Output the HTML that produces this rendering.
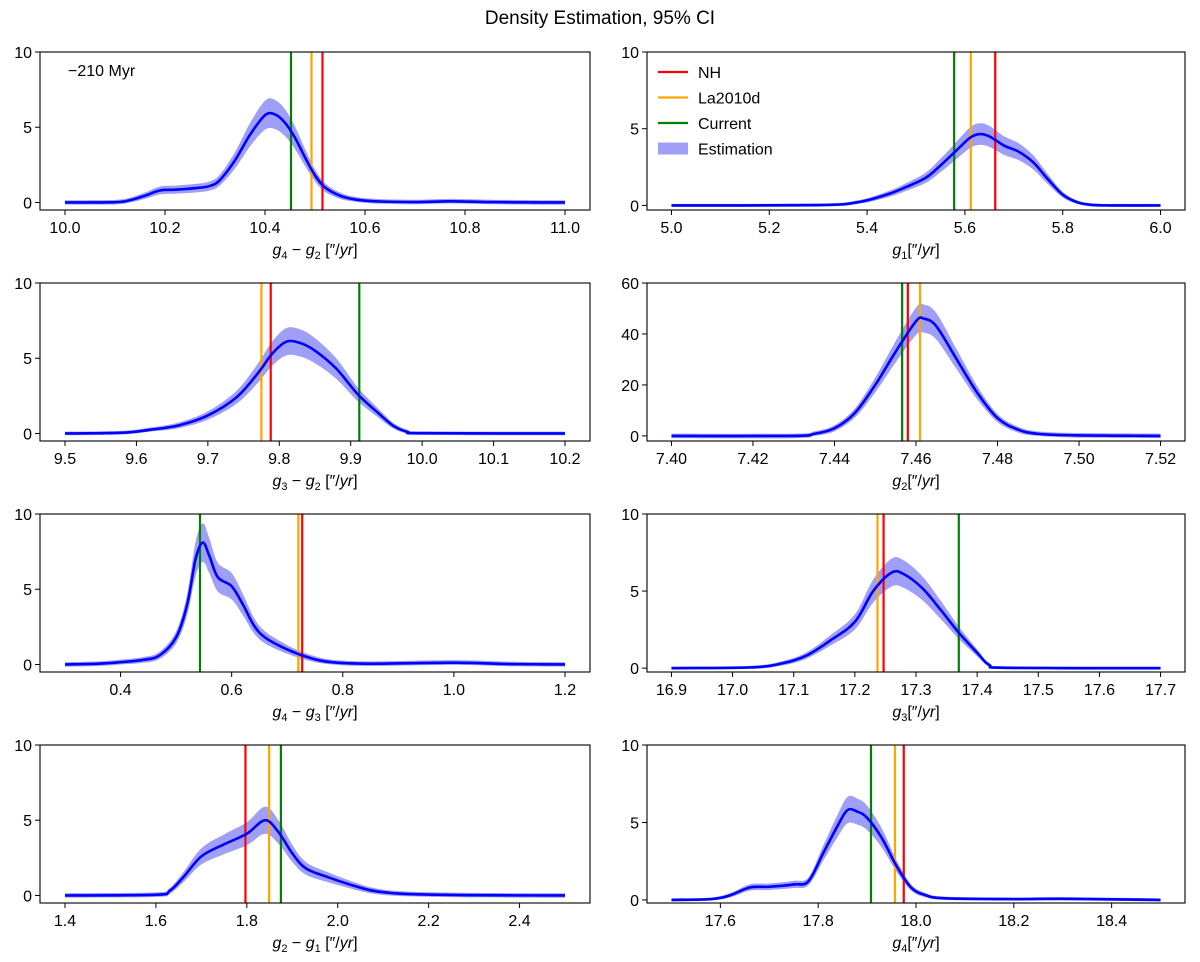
<!DOCTYPE html>
<html><head><meta charset="utf-8"><style>
body{margin:0;background:#fff}
svg{font-family:"Liberation Sans","DejaVu Sans",sans-serif}
</style></head><body>
<svg id="fig" width="1200" height="957" xmlns="http://www.w3.org/2000/svg">
<rect width="1200" height="957" fill="#fff"/>
<text x="600" y="24" text-anchor="middle" font-size="19">Density Estimation, 95% CI</text>
</svg>
<script>
// ---- data ----
const p1x=[10.0,10.1,10.13,10.16,10.19,10.22,10.26,10.29,10.31,10.34,10.37,10.40,10.42,10.44,10.46,10.48,10.50,10.52,10.55,10.58,10.62,10.7,10.77,10.85,10.95,11.0];
const p1y=[0,0.02,0.15,0.45,0.8,0.85,0.95,1.1,1.5,2.8,4.5,5.8,5.85,5.3,4.3,3.0,1.8,1.0,0.45,0.2,0.08,0.03,0.08,0.03,0,0];
const p2x=[5.0,5.3,5.38,5.44,5.48,5.52,5.55,5.58,5.61,5.63,5.65,5.68,5.71,5.74,5.77,5.80,5.83,5.86,5.9,6.0];
const p2y=[0,0.02,0.2,0.7,1.2,1.8,2.6,3.5,4.4,4.65,4.5,3.9,3.5,2.8,1.7,0.7,0.2,0.03,0,0];
const p3x=[9.5,9.58,9.62,9.66,9.7,9.74,9.77,9.79,9.81,9.83,9.85,9.88,9.91,9.94,9.96,9.98,10.0,10.2];
const p3y=[0,0.05,0.25,0.55,1.2,2.4,4.0,5.3,6.1,6.0,5.5,4.3,2.6,1.3,0.5,0.1,0.02,0];
const p4x=[7.40,7.43,7.435,7.44,7.445,7.45,7.455,7.46,7.462,7.465,7.47,7.475,7.48,7.485,7.49,7.50,7.52];
const p4y=[0,0,0.8,3,9,20,33,45,46,43,30,17,7,2.5,0.8,0.2,0];
const p5x=[0.3,0.36,0.40,0.44,0.47,0.50,0.52,0.535,0.548,0.56,0.575,0.6,0.62,0.64,0.66,0.7,0.74,0.78,0.85,1.0,1.1,1.2];
const p5y=[0,0.05,0.15,0.3,0.6,1.8,4.0,7.0,8.1,7.2,5.8,5.2,4.0,2.6,1.8,1.0,0.45,0.15,0.05,0.12,0.03,0];
const p6x=[16.9,17.03,17.08,17.12,17.16,17.2,17.23,17.26,17.28,17.31,17.34,17.37,17.40,17.42,17.45,17.7];
const p6y=[0,0.05,0.3,0.8,1.8,3.0,5.0,6.2,6.1,5.2,3.8,2.3,1.0,0.2,0.02,0];
const p7x=[1.4,1.6,1.63,1.66,1.7,1.75,1.8,1.84,1.87,1.9,1.93,1.98,2.03,2.08,2.15,2.3,2.5];
const p7y=[0,0.05,0.3,1.2,2.6,3.4,4.1,5.0,4.2,2.8,1.8,1.2,0.7,0.3,0.1,0.02,0];
const p8x=[17.5,17.58,17.62,17.66,17.7,17.75,17.78,17.81,17.84,17.86,17.88,17.9,17.93,17.96,17.99,18.02,18.06,18.2,18.3,18.5];
const p8y=[0,0.05,0.3,0.8,0.85,1.0,1.2,3.0,4.8,5.8,5.7,5.3,4.0,2.2,0.8,0.3,0.1,0.05,0.07,0];
// reference lines: [NH, La2010d, Current]
const refNH=[10.515,5.662,9.788,7.458,0.727,17.247,1.797,17.975];
const refLa=[10.493,5.612,9.775,7.461,0.720,17.237,1.849,17.957];
const refCur=[10.452,5.578,9.912,7.4566,0.543,17.370,1.875,17.908];
const xTicks=[[10.0,10.2,10.4,10.6,10.8,11.0],[5.0,5.2,5.4,5.6,5.8,6.0],[9.5,9.6,9.7,9.8,9.9,10.0,10.1,10.2],[7.40,7.42,7.44,7.46,7.48,7.50,7.52],[0.4,0.6,0.8,1.0,1.2],[16.9,17.0,17.1,17.2,17.3,17.4,17.5,17.6,17.7],[1.4,1.6,1.8,2.0,2.2,2.4],[17.6,17.8,18.0,18.2,18.4]];
const xDec=[1,1,1,2,1,1,1,1];
const yTicks=[[0,5,10],[0,5,10],[0,5,10],[0,20,40,60],[0,5,10],[0,5,10],[0,5,10],[0,5,10]];
const xLab=[["g","4","g","2"," [″/yr]"],["g","1","","","[″/yr]"],["g","3","g","2"," [″/yr]"],["g","2","","","[″/yr]"],["g","4","g","3"," [″/yr]"],["g","3","","","[″/yr]"],["g","2","g","1"," [″/yr]"],["g","4","","","[″/yr]"]];
// ---- layout ----
const XS=[p1x,p2x,p3x,p4x,p5x,p6x,p7x,p8x], YS=[p1y,p2y,p3y,p4y,p5y,p6y,p7y,p8y];
const ymins=[-0.5,-0.3,-0.5,-2,-0.5,-0.25,-0.5,-0.2], ymaxs=[10,10,10,60,10,10,10,10];
const bandRel=[0.14,0.13,0.13,0.1,0.14,0.13,0.15,0.13], bandAbs=[0.15,0.1,0.12,0.9,0.15,0.1,0.15,0.1];
const tops=[52,283,514,745];
const NS="http://www.w3.org/2000/svg", svg=document.getElementById('fig');
function mk(t,a,p){const e=document.createElementNS(NS,t);for(const k in a)e.setAttribute(k,a[k]);(p||svg).appendChild(e);return e;}
function smooth(pts){let d='M'+pts[0][0]+','+pts[0][1];for(let i=0;i<pts.length-1;i++){const p0=pts[Math.max(i-1,0)],p1=pts[i],p2=pts[i+1],p3=pts[Math.min(i+2,pts.length-1)];const c1=[p1[0]+(p2[0]-p0[0])/6,p1[1]+(p2[1]-p0[1])/6],c2=[p2[0]-(p3[0]-p1[0])/6,p2[1]-(p3[1]-p1[1])/6];d+=' C'+c1+' '+c2+' '+p2;}return d;}
for(let i=0;i<8;i++){
  const col=i%2,row=Math.floor(i/2);
  const L=col?647:40,R=col?1185:590,T=tops[row],B=T+158;
  const xs=XS[i],ys=YS[i],x0=xs[0],x1=xs[xs.length-1],pad=(R-L)/22;
  const sx=v=>L+pad+(v-x0)/(x1-x0)*(R-L-2*pad);
  const sy=v=>B-(v-ymins[i])/(ymaxs[i]-ymins[i])*(B-T);
  const g=mk('g',{});
  
  
  const up=xs.map((x,k)=>[sx(x),sy(ys[k]+ys[k]*bandRel[i]+bandAbs[i])]);
  const lo=xs.map((x,k)=>[sx(x),sy(Math.max(ys[k]-ys[k]*bandRel[i]-bandAbs[i],ys[k]<0.3?ys[k]-bandAbs[i]:0))]);
  const band=mk('path',{d:smooth(up)+' L'+smooth(lo.slice().reverse()).slice(1)+' Z',fill:'#9f9ff8',stroke:'none'},g);
  
  
  const refs=[[refCur[i],'#008000','current-line'],[refLa[i],'#ffa500','la2010d-line'],[refNH[i],'#ff0000','nh-line']];
  refs.forEach(r=>{const l=mk('line',{x1:sx(r[0]),x2:sx(r[0]),y1:T,y2:B,stroke:r[1],'stroke-width':2.2},g);
    
    });
  const line=mk('path',{d:smooth(xs.map((x,k)=>[sx(x),sy(ys[k])])),fill:'none',stroke:'#0000ff','stroke-width':2.6},g);
  
  
  mk('rect',{x:L,y:T,width:R-L,height:B-T,fill:'none',stroke:'#000','stroke-width':1.1},g);
  xTicks[i].forEach(t=>{const x=sx(t);mk('line',{x1:x,x2:x,y1:B,y2:B+5,stroke:'#000'},g);
    const tx=mk('text',{x:x,y:B+23,'text-anchor':'middle','font-size':16},g);tx.textContent=t.toFixed(xDec[i]);
    
    });
  yTicks[i].forEach(t=>{const y=sy(t);mk('line',{x1:L-5,x2:L,y1:y,y2:y,stroke:'#000'},g);
    const tx=mk('text',{x:L-8,y:y+6,'text-anchor':'end','font-size':16},g);tx.textContent=t;
    
    });
  const lb=xLab[i],lab=mk('text',{x:(L+R)/2,y:B+45,'text-anchor':'middle','font-size':16},g);
  
  
  let h='<tspan font-style="italic">'+lb[0]+'</tspan><tspan font-size="11" dy="4">'+lb[1]+'</tspan>';
  if(lb[2]) h+='<tspan dy="-4"> − </tspan><tspan font-style="italic">'+lb[2]+'</tspan><tspan font-size="11" dy="4">'+lb[3]+'</tspan><tspan dy="-4">'+lb[4].replace('yr','<tspan font-style="italic">yr</tspan>')+'</tspan>';
  else h+='<tspan dy="-4">'+lb[4].replace('yr','<tspan font-style="italic">yr</tspan>')+'</tspan>';
  lab.innerHTML=h;
}
const myr=mk('text',{x:68,y:76,'font-size':16});myr.textContent='−210 Myr';


const leg=mk('g',{});


[['NH','#ff0000'],['La2010d','#ffa500'],['Current','#008000'],['Estimation','#9f9ff8']].forEach((e,k)=>{
  const y=72+k*25.5;
  if(k<3) mk('line',{x1:658,x2:688,y1:y,y2:y,stroke:e[1],'stroke-width':2.2},leg);
  else mk('rect',{x:658,y:y-6,width:30,height:12,fill:e[1]},leg);
  const t=mk('text',{x:698,y:y+6,'font-size':16},leg);t.textContent=e[0];
  
  
});
</script>
</body></html>
